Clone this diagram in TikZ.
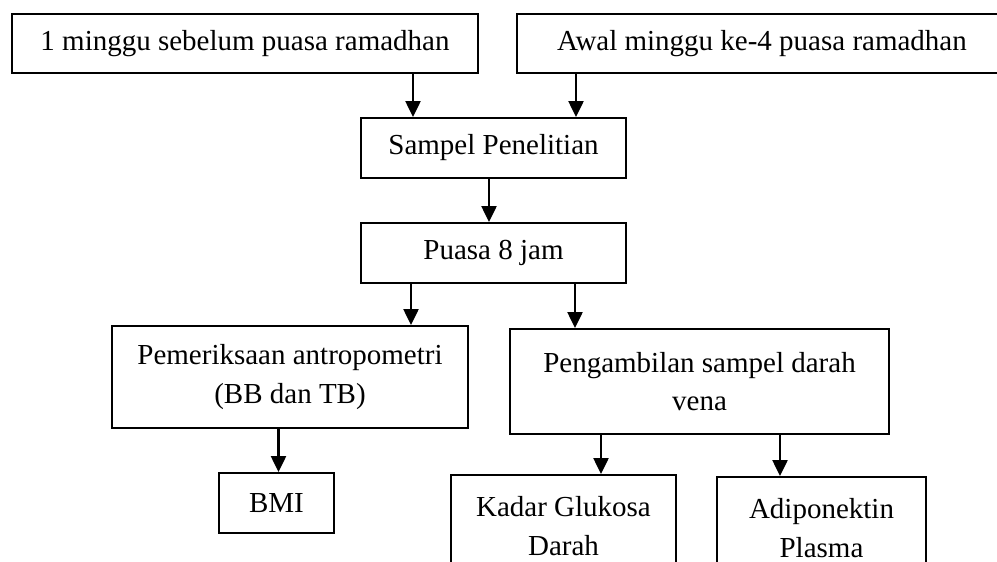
\documentclass[tikz,border=0pt]{standalone}
\usepackage{fontspec}
\setmainfont{Liberation Serif}
\usetikzlibrary{arrows.meta}

\begin{document}
\begin{tikzpicture}[x=1cm,y=1cm,
  box/.style={draw,line width=1.1pt,align=center,inner sep=0pt,font=\fontsize{16.5}{22}\selectfont},
  arr/.style={line width=1.4pt,-{Triangle[length=0.32cm,width=0.3cm]}}]
\path[use as bounding box] (0,0) rectangle (19.94,11.24);
\node[box,minimum width=9.32cm,minimum height=1.18cm] (pre) at (4.90,10.37) {1 minggu sebelum puasa ramadhan};
\node[box,minimum width=9.80cm,minimum height=1.18cm] (awal) at (15.24,10.37) {Awal minggu ke-4 puasa ramadhan};
\node[box,minimum width=5.30cm,minimum height=1.20cm] (sampel) at (9.87,8.28) {Sampel Penelitian};
\node[box,minimum width=5.30cm,minimum height=1.20cm] (puasa) at (9.87,6.18) {Puasa 8 jam};
\node[box,minimum width=7.12cm,minimum height=2.04cm] (antro) at (5.80,3.70) {Pemeriksaan antropometri\\(BB dan TB)};
\node[box,minimum width=7.58cm,minimum height=2.10cm] (darah) at (13.99,3.61) {Pengambilan sampel darah\\vena};
\node[box,minimum width=2.30cm,minimum height=1.20cm] (bmi) at (5.53,1.18) {BMI};
\node[box,minimum width=4.50cm,minimum height=2.04cm] (gluk) at (11.27,0.72) {Kadar Glukosa\\Darah};
\node[box,minimum width=4.18cm,minimum height=2.04cm] (adipo) at (16.43,0.68) {Adiponektin\\Plasma};
\draw[arr] (pre.south -| 8.26,0) -- (sampel.north -| 8.26,0);
\draw[arr] (awal.south -| 11.52,0) -- (sampel.north -| 11.52,0);
\draw[arr] (sampel.south -| 9.78,0) -- (puasa.north -| 9.78,0);
\draw[arr] (puasa.south -| 8.22,0) -- (antro.north -| 8.22,0);
\draw[arr] (puasa.south -| 11.50,0) -- (darah.north -| 11.50,0);
\draw[arr] (antro.south -| 5.57,0) -- (bmi.north -| 5.57,0);
\draw[arr] (darah.south -| 12.02,0) -- (gluk.north -| 12.02,0);
\draw[arr] (darah.south -| 15.60,0) -- (adipo.north -| 15.60,0);
\end{tikzpicture}
\end{document}
